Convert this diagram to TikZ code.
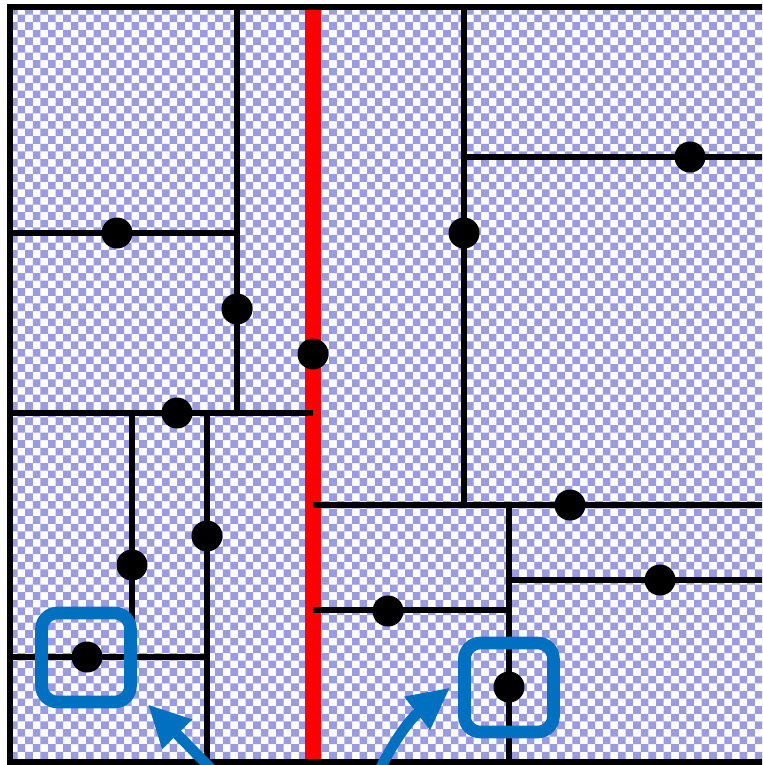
\documentclass[tikz,border=0pt]{standalone}
\usepackage{xcolor}
\usepackage{tikz}
\usetikzlibrary{arrows.meta, positioning, calc}

\definecolor{checkblue}{RGB}{155,155,225}
\definecolor{markblue}{RGB}{0,112,192}

\tikzset{
  wall/.style={line width=3.4pt, black},
  cut/.style={line width=9.6pt, red},
  dot/.style={circle, fill=black, inner sep=0pt, minimum size=0.62cm},
  marker/.style={draw=markblue, line width=7.2pt, rounded corners=0.32cm, minimum size=1.78cm, inner sep=0pt},
  pointer/.style={-{Triangle[length=0.84cm, width=0.78cm]}, line width=6pt, markblue}
}

\begin{document}
\begin{tikzpicture}[x=0.02cm, y=-0.02cm]
  \useasboundingbox (0,0) rectangle (762,765);
  \clip (0,0) rectangle (762,765);
  % Checkered background
  \fill[white] (0,0) rectangle (762,765);
  \fill[checkblue] \foreach \j in {0,...,99}{
      \foreach \i in {0,...,49}{
        ({10+(2*\i+mod(\j,2))*7.6},{7+\j*7.6}) rectangle ++(7.6,7.6)
      }
    };
  % Splitting line
  \draw[cut] (313,7) -- (313,762);
  % Cell walls
  \draw[wall] (237,7) -- (237,413);
  \draw[wall] (10,233) -- (237,233);
  \draw[wall] (10,413) -- (313,413);
  \draw[wall] (132,413) -- (132,657);
  \draw[wall] (207,413) -- (207,762);
  \draw[wall] (10,657) -- (207,657);
  \draw[wall] (464,7) -- (464,505);
  \draw[wall] (464,157) -- (780,157);
  \draw[wall] (313,505) -- (780,505);
  \draw[wall] (509,505) -- (509,762);
  \draw[wall] (509,580) -- (780,580);
  \draw[wall] (313,610) -- (509,610);
  % Outer frame
  \draw[wall, line width=3.6pt] (780,7) -- (10,7) -- (10,762) -- (780,762);
  % Points
  \foreach \name/\x/\y in {p1/117/233, p2/237/309, p3/177/413, p4/313/354,
                           p5/464/233, p6/690/157, p7/570/505, p8/660/580,
                           p9/388/611, p10/509/687, p11/132/565, p12/207/536,
                           p13/87/657}{
    \node[dot] (\name) at (\x,\y) {};
  }
  % Highlighted points
  \node[marker] (boxL) at (86,657.5) {};
  \node[marker] (boxR) at (509,687.5) {};
  % Arrows
  \coordinate (tailL) at (232,790);
  \coordinate (tailR) at (370,790);
  \draw[pointer] (tailL) -- ([shift={(11,-4)}]boxL.south east);
  \draw[pointer] (tailR) to[bend left=14] ([shift={(-8,0)}]boxR.west);
\end{tikzpicture}
\end{document}
